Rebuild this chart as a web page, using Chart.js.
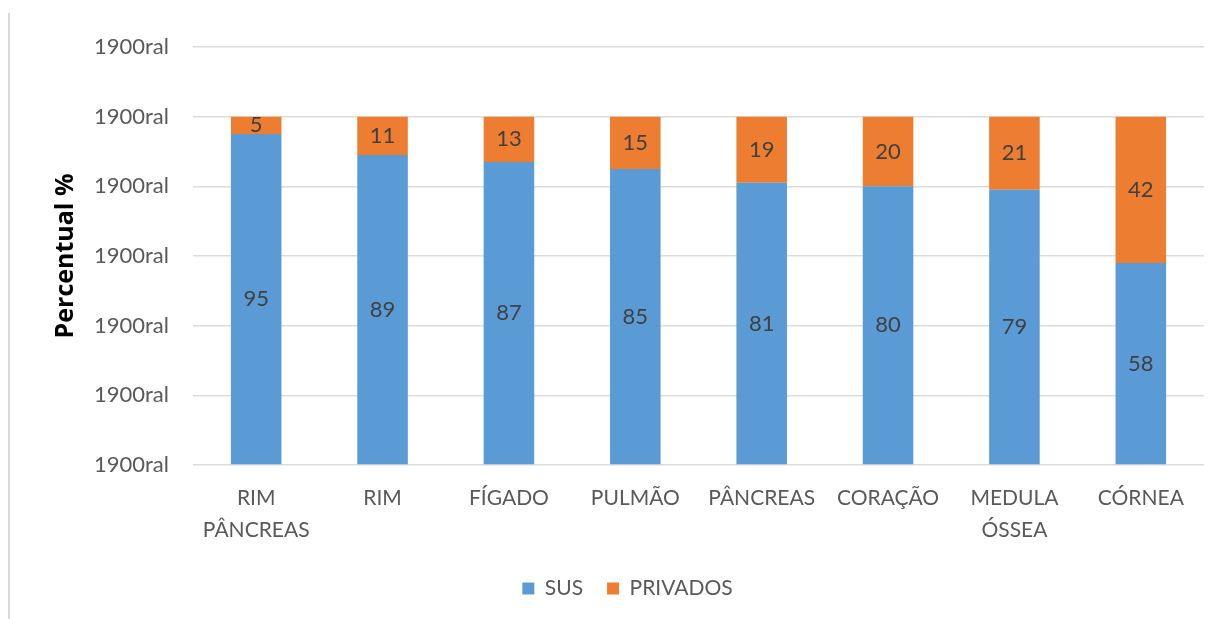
<!DOCTYPE html>
<html>
<head>
<meta charset="utf-8">
<script src="https://cdn.jsdelivr.net/npm/chart.js@4/dist/chart.umd.min.js"></script>
<style>
  html, body { margin: 0; padding: 0; background: #fff; }
  #wrap { position: relative; width: 1221px; height: 619px; }
  #frame { position: absolute; left: 8px; top: 13px; bottom: 0; border-left: 2px solid #d9d9d9; }
</style>
</head>
<body>
<div id="wrap">
  <div id="frame"></div>
  <canvas id="mychart" width="1221" height="619"></canvas>
</div>
<script>
const categories = [['RIM', 'PÂNCREAS'], 'RIM', 'FÍGADO', 'PULMÃO', 'PÂNCREAS', 'CORAÇÃO', ['MEDULA', 'ÓSSEA'], 'CÓRNEA'];
const susValues = [95, 89, 87, 85, 81, 80, 79, 58];
const privadosValues = [5, 11, 13, 15, 19, 20, 21, 42];
const yTickLabels = ['1900ral', '1900ral', '1900ral', '1900ral', '1900ral', '1900ral', '1900ral'];

const FONT = "Lato, 'Open Sans', sans-serif";

// draws the value in the middle of each bar segment
const barLabels = {
    id: 'barLabels',
    afterDatasetsDraw(chart) {
        const c = chart.ctx;
        c.save();
        c.font = '22px ' + FONT;
        c.fillStyle = '#404040';
        c.textAlign = 'center';
        c.textBaseline = 'middle';
        chart.data.datasets.forEach((ds, i) => {
            chart.getDatasetMeta(i).data.forEach((bar, j) => {
                const mid = (bar.y + bar.base) / 2;
                c.fillText(ds.data[j], bar.x, mid);
            });
        });
        c.restore();
    }
};

const ctx = document.getElementById('mychart').getContext('2d');

const mychart = new Chart(ctx, {
    type: 'bar',
    data: {
        labels: categories,
        datasets: [
            {
                label: 'SUS',
                data: susValues,
                backgroundColor: '#5B9BD5',
                barPercentage: 0.4,
                categoryPercentage: 1
            },
            {
                label: 'PRIVADOS',
                data: privadosValues,
                backgroundColor: '#ED7D31',
                barPercentage: 0.4,
                categoryPercentage: 1
            }
        ]
    },
    options: {
        responsive: false,
        animation: false,
        layout: {
            padding: { top: 47, right: 17, left: 51, bottom: 10 }
        },
        scales: {
            x: {
                stacked: true,
                grid: { display: false },
                border: { display: false },
                afterFit(scale) { scale.height -= 2; },
                ticks: {
                    color: '#595959',
                    font: { family: FONT, size: 21, lineHeight: 1.55 },
                    maxRotation: 0,
                    padding: 9
                }
            },
            y: {
                stacked: true,
                min: 0,
                max: 120,
                afterFit(scale) { scale.width = 142; },
                border: { display: false },
                grid: { color: '#dcdcdc', lineWidth: 1.5, drawTicks: false },
                ticks: {
                    stepSize: 20,
                    color: '#595959',
                    font: { family: FONT, size: 22 },
                    padding: 24,
                    callback: (v, i) => yTickLabels[i]
                },
                title: {
                    display: true,
                    text: 'Percentual %',
                    color: '#000',
                    font: { family: "'Open Sans', sans-serif", size: 25, weight: 'bold' },
                    padding: { top: 0, bottom: 6 }
                }
            }
        },
        plugins: {
            legend: {
                position: 'bottom',
                labels: {
                    color: '#595959',
                    font: { family: FONT, size: 21 },
                    boxWidth: 12,
                    boxHeight: 12,
                    padding: 24
                }
            },
            tooltip: { enabled: false }
        }
    },
    plugins: [barLabels]
});
</script>
</body>
</html>
